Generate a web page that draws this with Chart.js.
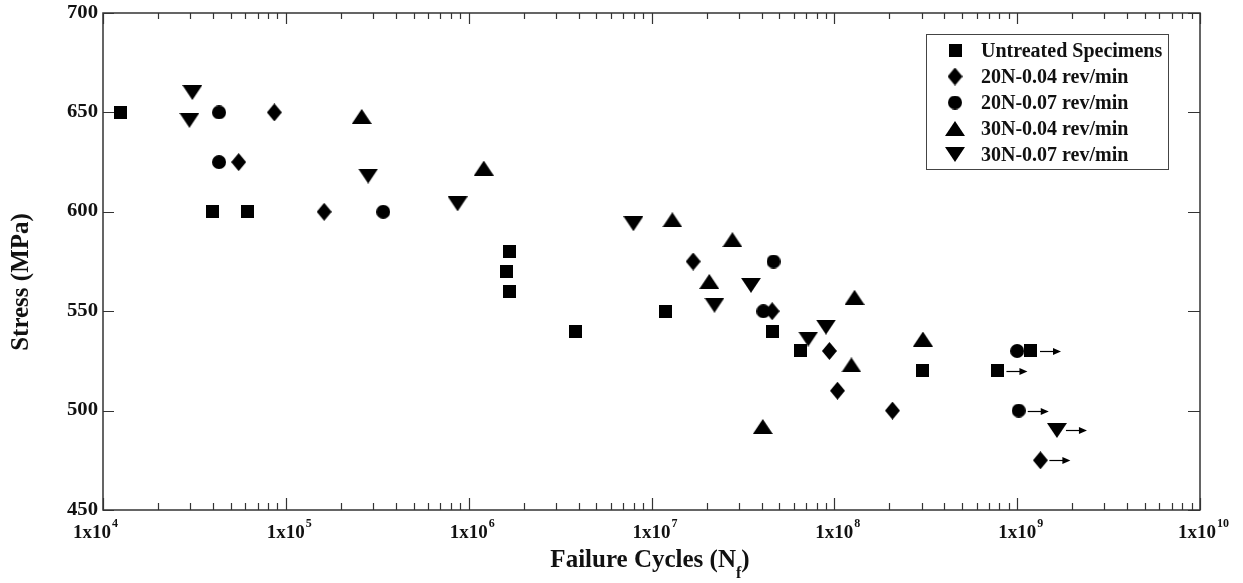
<!DOCTYPE html>
<html>
<head>
<meta charset="utf-8">
<title>Stress vs Failure Cycles</title>
<script src="https://cdn.jsdelivr.net/npm/chart.js@4.4.1/dist/chart.umd.min.js"></script>
<style>
  html, body { margin: 0; padding: 0; background: #fff; }
  #chart { display: block; }
</style>
</head>
<body>
<canvas id="chart" width="1243" height="583"></canvas>
<script>
(function() {
  'use strict';

  // Untreated specimens
  const untreatedCycles = [1.24e4, 3.95e4, 6.2e4, 1.68e6, 1.62e6, 1.68e6, 3.85e6, 1.2e7, 4.6e7, 6.5e7, 3.02e8, 7.8e8, 1.19e9];
  const untreatedStress = [650, 600, 600, 580, 570, 560, 540, 550, 540, 530, 520, 520, 530];
  const untreatedRunout = [false, false, false, false, false, false, false, false, false, false, false, true, true];

  // 20N-0.04 rev/min
  const n20s04Cycles = [8.65e4, 5.52e4, 1.62e5, 1.69e7, 4.57e7, 9.4e7, 1.04e8, 2.08e8, 1.34e9];
  const n20s04Stress = [650, 625, 600, 575, 550, 530, 510, 500, 475];
  const n20s04Runout = [false, false, false, false, false, false, false, false, true];

  // 20N-0.07 rev/min
  const n20s07Cycles = [4.31e4, 4.31e4, 3.41e5, 4.65e7, 4.09e7, 1.0e9, 1.02e9];
  const n20s07Stress = [650, 625, 600, 575, 550, 530, 500];
  const n20s07Runout = [false, false, false, false, false, false, true];

  // 30N-0.04 rev/min
  const n30s04Cycles = [2.6e5, 1.21e6, 1.3e7, 2.77e7, 2.07e7, 4.06e7, 1.29e8, 1.24e8, 3.05e8];
  const n30s04Stress = [648, 622, 596, 586, 565, 492, 557, 523, 536];
  const n30s04Runout = [false, false, false, false, false, false, false, false, false];

  // 30N-0.07 rev/min
  const n30s07Cycles = [3.08e4, 2.97e4, 2.82e5, 8.7e5, 7.96e6, 3.5e7, 2.21e7, 7.2e7, 9.0e7, 1.65e9];
  const n30s07Stress = [660, 646, 618, 604, 594, 563, 553, 536, 542, 490];
  const n30s07Runout = [false, false, false, false, false, false, false, false, false, true];

  const seriesLabels = ['Untreated Specimens', '20N-0.04 rev/min', '20N-0.07 rev/min', '30N-0.04 rev/min', '30N-0.07 rev/min'];
  const seriesShapes = ['square', 'diamond', 'circle', 'up', 'down'];

  const xDecades = [4, 5, 6, 7, 8, 9, 10];
  const yTicks = [450, 500, 550, 600, 650, 700];

  const FONT = "'Liberation Serif', 'Times New Roman', serif";

  function makeMarker(shape) {
    const sizes = { square: [13, 13], diamond: [15, 18], circle: [14, 14], up: [20, 15], down: [20, 15] };
    const w = sizes[shape][0];
    const h = sizes[shape][1];
    const c = document.createElement('canvas');
    c.width = w;
    c.height = h;
    const g = c.getContext('2d');
    g.fillStyle = '#000';
    g.beginPath();
    if (shape === 'square') {
      g.rect(0, 0, w, h);
    } else if (shape === 'diamond') {
      g.moveTo(w / 2, 0); g.lineTo(w, h / 2); g.lineTo(w / 2, h); g.lineTo(0, h / 2);
    } else if (shape === 'circle') {
      g.arc(w / 2, h / 2, w / 2, 0, Math.PI * 2);
    } else if (shape === 'up') {
      g.moveTo(w / 2, 0); g.lineTo(w, h); g.lineTo(0, h);
    } else {
      g.moveTo(0, 0); g.lineTo(w, 0); g.lineTo(w / 2, h);
    }
    g.closePath();
    g.fill();
    return c;
  }

  const cycles = [untreatedCycles, n20s04Cycles, n20s07Cycles, n30s04Cycles, n30s07Cycles];
  const stress = [untreatedStress, n20s04Stress, n20s07Stress, n30s04Stress, n30s07Stress];
  const runouts = [untreatedRunout, n20s04Runout, n20s07Runout, n30s04Runout, n30s07Runout];

  const datasets = seriesLabels.map((label, i) => ({
    label: label,
    data: cycles[i].map((x, j) => ({ x: x, y: stress[i][j] })),
    pointStyle: makeMarker(seriesShapes[i]),
    pointRadius: 7,
    backgroundColor: '#000',
    borderColor: '#000',
    showLine: false
  }));

  const decorations = {
    id: 'decorations',
    // run-out arrows next to the points that did not fail
    afterDatasetsDraw(chart) {
      const ctx = chart.ctx;
      ctx.save();
      ctx.strokeStyle = '#000';
      ctx.fillStyle = '#000';
      ctx.lineWidth = 1.2;
      chart.data.datasets.forEach((ds, i) => {
        const meta = chart.getDatasetMeta(i);
        meta.data.forEach((pt, j) => {
          if (!runouts[i][j]) return;
          const px = pt.x;
          const py = Math.round(pt.y) + 0.5;
          ctx.beginPath();
          ctx.moveTo(px + 9, py);
          ctx.lineTo(px + 23, py);
          ctx.stroke();
          ctx.beginPath();
          ctx.moveTo(px + 30, py);
          ctx.lineTo(px + 22, py - 3.5);
          ctx.lineTo(px + 22, py + 3.5);
          ctx.closePath();
          ctx.fill();
        });
      });
      ctx.restore();
    },
    afterDraw(chart) {
      const ctx = chart.ctx;
      const area = chart.chartArea;
      const xs = chart.scales.x;
      const ys = chart.scales.y;
      ctx.save();

      // frame
      ctx.strokeStyle = '#333';
      ctx.lineWidth = 1.5;
      ctx.strokeRect(area.left, area.top, area.right - area.left, area.bottom - area.top);

      // x ticks (bottom and top, inward)
      ctx.lineWidth = 1.2;
      ctx.beginPath();
      xDecades.forEach(k => {
        for (let m = 1; m <= 9; m++) {
          const v = m * Math.pow(10, k);
          if (v > 1e10) break;
          const px = Math.round(xs.getPixelForValue(v)) + 0.5;
          const major = m === 1;
          ctx.moveTo(px, area.bottom);
          ctx.lineTo(px, area.bottom - (major ? 12 : 7));
          ctx.moveTo(px, area.top);
          ctx.lineTo(px, area.top + (major ? 11 : 6));
        }
      });
      // y ticks (left and right, inward)
      yTicks.forEach(v => {
        const py = Math.round(ys.getPixelForValue(v)) + 0.5;
        ctx.moveTo(area.left, py);
        ctx.lineTo(area.left + 11, py);
        ctx.moveTo(area.right, py);
        ctx.lineTo(area.right - 12, py);
      });
      ctx.stroke();

      ctx.fillStyle = '#111';

      // y tick labels (slightly wide, like the original)
      ctx.font = 'bold 18px ' + FONT;
      ctx.textAlign = 'right';
      ctx.textBaseline = 'middle';
      yTicks.forEach(v => {
        ctx.save();
        ctx.translate(area.left - 5, ys.getPixelForValue(v));
        ctx.scale(1.15, 1);
        ctx.fillText(String(v), 0, 0);
        ctx.restore();
      });

      // x tick labels 1x10^k
      ctx.textBaseline = 'alphabetic';
      ctx.textAlign = 'left';
      xDecades.forEach(k => {
        const px = xs.getPixelForValue(Math.pow(10, k));
        ctx.font = 'bold 19px ' + FONT;
        const base = '1x10';
        const bw = ctx.measureText(base).width;
        ctx.font = 'bold 12px ' + FONT;
        const sup = String(k);
        const sw = ctx.measureText(sup).width;
        const shift = k === 4 ? -8 : 3;
        const x0 = px + shift - (bw + sw) / 2;
        ctx.font = 'bold 19px ' + FONT;
        ctx.fillText(base, x0, 538);
        ctx.font = 'bold 12px ' + FONT;
        ctx.fillText(sup, x0 + bw + 1, 527);
      });

      // x axis title with subscript
      const t1 = 'Failure Cycles (N';
      const t2 = 'f';
      const t3 = ')';
      ctx.font = 'bold 25px ' + FONT;
      const w1 = ctx.measureText(t1).width;
      const w3 = ctx.measureText(t3).width;
      ctx.font = 'bold 16px ' + FONT;
      const w2 = ctx.measureText(t2).width;
      let tx = 650 - (w1 + w2 + w3) / 2;
      ctx.font = 'bold 25px ' + FONT;
      ctx.fillText(t1, tx, 567);
      tx += w1;
      ctx.font = 'bold 16px ' + FONT;
      ctx.fillText(t2, tx, 578);
      tx += w2;
      ctx.font = 'bold 25px ' + FONT;
      ctx.fillText(t3, tx, 567);

      // y axis title
      ctx.save();
      ctx.translate(22, 282);
      ctx.rotate(-Math.PI / 2);
      ctx.textAlign = 'center';
      ctx.textBaseline = 'middle';
      ctx.font = 'bold 25px ' + FONT;
      ctx.fillText('Stress (MPa)', 0, 0);
      ctx.restore();

      // legend box
      ctx.strokeStyle = '#444';
      ctx.lineWidth = 1;
      ctx.strokeRect(926.5, 34.5, 242, 135);
      ctx.font = 'bold 20px ' + FONT;
      ctx.textAlign = 'left';
      ctx.textBaseline = 'alphabetic';
      chart.data.datasets.forEach((ds, i) => {
        const img = ds.pointStyle;
        const cy = 50.5 + i * 26;
        ctx.drawImage(img, 955 - img.width / 2, cy - img.height / 2);
        ctx.fillText(ds.label, 981, 57 + i * 26);
      });

      ctx.restore();
    }
  };

  new Chart(document.getElementById('chart'), {
    type: 'scatter',
    data: { datasets: datasets },
    options: {
      responsive: false,
      animation: false,
      layout: { padding: { left: 103, right: 43, top: 13, bottom: 73 } },
      plugins: {
        legend: { display: false },
        tooltip: { enabled: false }
      },
      scales: {
        x: { type: 'logarithmic', min: 1e4, max: 1e10, display: false },
        y: { type: 'linear', min: 450, max: 700, display: false }
      }
    },
    plugins: [decorations]
  });
})();
</script>
</body>
</html>
